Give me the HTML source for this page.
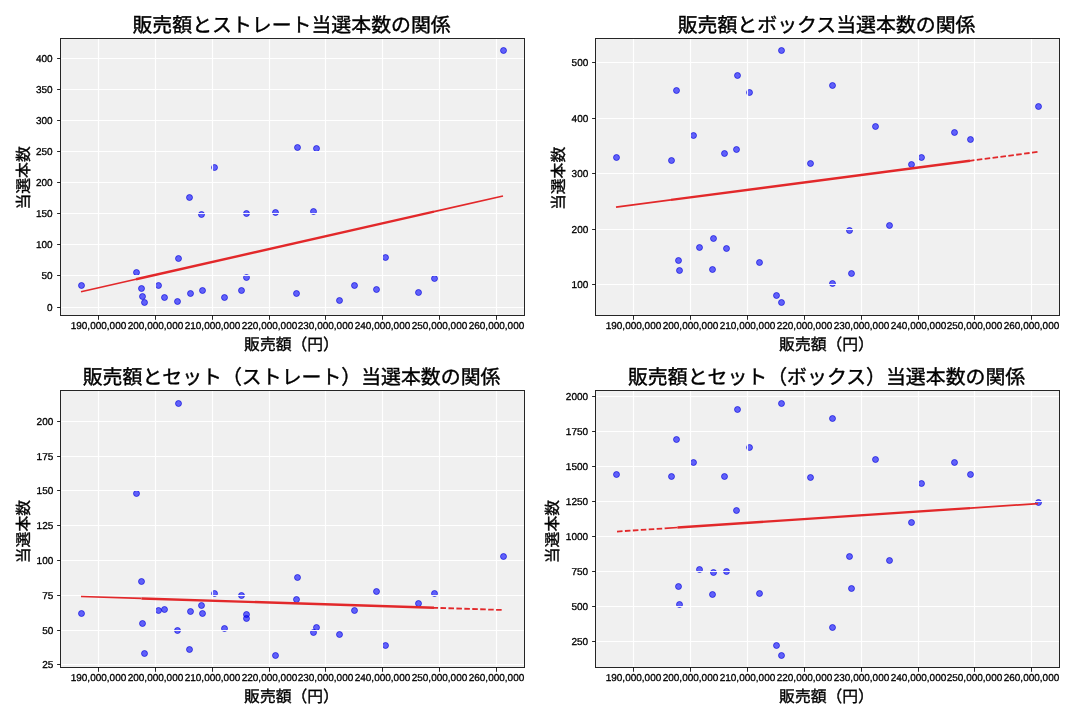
<!DOCTYPE html>
<html lang="ja">
<head>
<meta charset="utf-8">
<title>販売額と当選本数の関係</title>
<style>
html,body{margin:0;padding:0;background:#ffffff;}
body{width:1080px;height:720px;overflow:hidden;font-family:"Liberation Sans", "Noto Sans CJK JP", sans-serif;}
svg{display:block;will-change:transform;}
svg text{text-rendering:geometricPrecision;}
</style>
</head>
<body>
<svg width="1080" height="720" viewBox="0 0 1080 720" font-family='"Liberation Sans", "Noto Sans CJK JP", sans-serif'>
<rect width="1080" height="720" fill="#ffffff"/>
<g>
<clipPath id="clip0"><rect x="60.5" y="38.5" width="464.00" height="277.00"/></clipPath>
<rect x="60.5" y="38.5" width="464.00" height="277.00" fill="#f0f0f0"/>
<g clip-path="url(#clip0)" fill="#0000ff" fill-opacity="0.6" stroke="#0000d8" stroke-opacity="0.6" stroke-width="1">
<circle cx="81.50" cy="285.50" r="3"/>
<circle cx="136.50" cy="272.50" r="3"/>
<circle cx="141.50" cy="288.50" r="3"/>
<circle cx="142.50" cy="296.50" r="3"/>
<circle cx="144.50" cy="302.50" r="3"/>
<circle cx="158.50" cy="285.50" r="3"/>
<circle cx="164.50" cy="297.50" r="3"/>
<circle cx="177.50" cy="301.50" r="3"/>
<circle cx="178.50" cy="258.50" r="3"/>
<circle cx="190.50" cy="293.50" r="3"/>
<circle cx="189.50" cy="197.50" r="3"/>
<circle cx="201.50" cy="214.50" r="3"/>
<circle cx="202.50" cy="290.50" r="3"/>
<circle cx="214.50" cy="167.50" r="3"/>
<circle cx="224.50" cy="297.50" r="3"/>
<circle cx="241.50" cy="290.50" r="3"/>
<circle cx="246.50" cy="277.50" r="3"/>
<circle cx="246.50" cy="213.50" r="3"/>
<circle cx="275.50" cy="212.50" r="3"/>
<circle cx="297.50" cy="147.50" r="3"/>
<circle cx="296.50" cy="293.50" r="3"/>
<circle cx="316.50" cy="148.50" r="3"/>
<circle cx="313.50" cy="211.50" r="3"/>
<circle cx="339.50" cy="300.50" r="3"/>
<circle cx="354.50" cy="285.50" r="3"/>
<circle cx="376.50" cy="289.50" r="3"/>
<circle cx="385.50" cy="257.50" r="3"/>
<circle cx="418.50" cy="292.50" r="3"/>
<circle cx="434.50" cy="278.50" r="3"/>
<circle cx="503.50" cy="50.50" r="3"/>
</g>
<g stroke="#ffffff" stroke-width="1.15" stroke-opacity="0.95" fill="none">
<line x1="98.5" y1="38.5" x2="98.5" y2="315.5"/>
<line x1="155.5" y1="38.5" x2="155.5" y2="315.5"/>
<line x1="212.5" y1="38.5" x2="212.5" y2="315.5"/>
<line x1="269.5" y1="38.5" x2="269.5" y2="315.5"/>
<line x1="325.5" y1="38.5" x2="325.5" y2="315.5"/>
<line x1="382.5" y1="38.5" x2="382.5" y2="315.5"/>
<line x1="439.5" y1="38.5" x2="439.5" y2="315.5"/>
<line x1="496.5" y1="38.5" x2="496.5" y2="315.5"/>
<line x1="60.5" y1="307.5" x2="524.5" y2="307.5"/>
<line x1="60.5" y1="275.5" x2="524.5" y2="275.5"/>
<line x1="60.5" y1="244.5" x2="524.5" y2="244.5"/>
<line x1="60.5" y1="213.5" x2="524.5" y2="213.5"/>
<line x1="60.5" y1="182.5" x2="524.5" y2="182.5"/>
<line x1="60.5" y1="151.5" x2="524.5" y2="151.5"/>
<line x1="60.5" y1="120.5" x2="524.5" y2="120.5"/>
<line x1="60.5" y1="89.5" x2="524.5" y2="89.5"/>
<line x1="60.5" y1="58.5" x2="524.5" y2="58.5"/>
</g>
<g clip-path="url(#clip0)" fill="none" stroke="#e2282a">
<line x1="136.00" y1="279.28" x2="434.00" y2="211.66" stroke-width="2.4"/>
<line x1="81.00" y1="291.76" x2="136.00" y2="279.28" stroke-width="1.7"/>
<line x1="434.00" y1="211.66" x2="503.00" y2="196.00" stroke-width="1.7"/>
</g>
<g stroke="#000000" stroke-width="1" stroke-opacity="0.85" fill="none">
<line x1="98.5" y1="315.5" x2="98.5" y2="319.80"/>
<line x1="155.5" y1="315.5" x2="155.5" y2="319.80"/>
<line x1="212.5" y1="315.5" x2="212.5" y2="319.80"/>
<line x1="269.5" y1="315.5" x2="269.5" y2="319.80"/>
<line x1="325.5" y1="315.5" x2="325.5" y2="319.80"/>
<line x1="382.5" y1="315.5" x2="382.5" y2="319.80"/>
<line x1="439.5" y1="315.5" x2="439.5" y2="319.80"/>
<line x1="496.5" y1="315.5" x2="496.5" y2="319.80"/>
<line x1="60.5" y1="307.5" x2="57.10" y2="307.5"/>
<line x1="60.5" y1="275.5" x2="57.10" y2="275.5"/>
<line x1="60.5" y1="244.5" x2="57.10" y2="244.5"/>
<line x1="60.5" y1="213.5" x2="57.10" y2="213.5"/>
<line x1="60.5" y1="182.5" x2="57.10" y2="182.5"/>
<line x1="60.5" y1="151.5" x2="57.10" y2="151.5"/>
<line x1="60.5" y1="120.5" x2="57.10" y2="120.5"/>
<line x1="60.5" y1="89.5" x2="57.10" y2="89.5"/>
<line x1="60.5" y1="58.5" x2="57.10" y2="58.5"/>
</g>
<rect x="60.5" y="38.5" width="464.00" height="277.00" fill="none" stroke="#000000" stroke-opacity="0.85" stroke-width="1"/>
<g font-size="10" fill="#000000" stroke="#000000" stroke-width="0.3">
<text x="98.50" y="329.40" text-anchor="middle">190,000,000</text>
<text x="155.50" y="329.40" text-anchor="middle">200,000,000</text>
<text x="212.50" y="329.40" text-anchor="middle">210,000,000</text>
<text x="269.50" y="329.40" text-anchor="middle">220,000,000</text>
<text x="325.50" y="329.40" text-anchor="middle">230,000,000</text>
<text x="382.50" y="329.40" text-anchor="middle">240,000,000</text>
<text x="439.50" y="329.40" text-anchor="middle">250,000,000</text>
<text x="496.50" y="329.40" text-anchor="middle">260,000,000</text>
<text x="52.60" y="310.65" text-anchor="end">0</text>
<text x="52.60" y="278.65" text-anchor="end">50</text>
<text x="52.60" y="247.65" text-anchor="end">100</text>
<text x="52.60" y="216.65" text-anchor="end">150</text>
<text x="52.60" y="185.65" text-anchor="end">200</text>
<text x="52.60" y="154.65" text-anchor="end">250</text>
<text x="52.60" y="123.65" text-anchor="end">300</text>
<text x="52.60" y="92.65" text-anchor="end">350</text>
<text x="52.60" y="61.65" text-anchor="end">400</text>
</g>
<text x="291.50" y="349.90" font-size="15.8" text-anchor="middle" fill="#000000" stroke="#000000" stroke-width="0.35">販売額（円）</text>
<text transform="translate(29.00,177.90) rotate(-90)" font-size="15.8" text-anchor="middle" fill="#000000" stroke="#000000" stroke-width="0.35">当選本数</text>
<text x="291.60" y="31.90" font-size="19.9" text-anchor="middle" fill="#000000" stroke="#000000" stroke-width="0.4">販売額とストレート当選本数の関係</text>
</g>
<g>
<clipPath id="clip1"><rect x="595.5" y="38.5" width="464.00" height="277.00"/></clipPath>
<rect x="595.5" y="38.5" width="464.00" height="277.00" fill="#f0f0f0"/>
<g clip-path="url(#clip1)" fill="#0000ff" fill-opacity="0.6" stroke="#0000d8" stroke-opacity="0.6" stroke-width="1">
<circle cx="616.50" cy="157.50" r="3"/>
<circle cx="671.50" cy="160.50" r="3"/>
<circle cx="676.50" cy="90.50" r="3"/>
<circle cx="678.50" cy="260.50" r="3"/>
<circle cx="679.50" cy="270.50" r="3"/>
<circle cx="693.50" cy="135.50" r="3"/>
<circle cx="699.50" cy="247.50" r="3"/>
<circle cx="712.50" cy="269.50" r="3"/>
<circle cx="713.50" cy="238.50" r="3"/>
<circle cx="726.50" cy="248.50" r="3"/>
<circle cx="724.50" cy="153.50" r="3"/>
<circle cx="736.50" cy="149.50" r="3"/>
<circle cx="737.50" cy="75.50" r="3"/>
<circle cx="749.50" cy="92.50" r="3"/>
<circle cx="759.50" cy="262.50" r="3"/>
<circle cx="776.50" cy="295.50" r="3"/>
<circle cx="781.50" cy="50.50" r="3"/>
<circle cx="781.50" cy="302.50" r="3"/>
<circle cx="810.50" cy="163.50" r="3"/>
<circle cx="832.50" cy="85.50" r="3"/>
<circle cx="832.50" cy="283.50" r="3"/>
<circle cx="851.50" cy="273.50" r="3"/>
<circle cx="849.50" cy="230.50" r="3"/>
<circle cx="875.50" cy="126.50" r="3"/>
<circle cx="889.50" cy="225.50" r="3"/>
<circle cx="911.50" cy="164.50" r="3"/>
<circle cx="921.50" cy="157.50" r="3"/>
<circle cx="954.50" cy="132.50" r="3"/>
<circle cx="970.50" cy="139.50" r="3"/>
<circle cx="1038.50" cy="106.50" r="3"/>
</g>
<g stroke="#ffffff" stroke-width="1.15" stroke-opacity="0.95" fill="none">
<line x1="633.5" y1="38.5" x2="633.5" y2="315.5"/>
<line x1="690.5" y1="38.5" x2="690.5" y2="315.5"/>
<line x1="747.5" y1="38.5" x2="747.5" y2="315.5"/>
<line x1="804.5" y1="38.5" x2="804.5" y2="315.5"/>
<line x1="861.5" y1="38.5" x2="861.5" y2="315.5"/>
<line x1="918.5" y1="38.5" x2="918.5" y2="315.5"/>
<line x1="974.5" y1="38.5" x2="974.5" y2="315.5"/>
<line x1="1031.5" y1="38.5" x2="1031.5" y2="315.5"/>
<line x1="595.5" y1="284.5" x2="1059.5" y2="284.5"/>
<line x1="595.5" y1="229.5" x2="1059.5" y2="229.5"/>
<line x1="595.5" y1="173.5" x2="1059.5" y2="173.5"/>
<line x1="595.5" y1="118.5" x2="1059.5" y2="118.5"/>
<line x1="595.5" y1="62.5" x2="1059.5" y2="62.5"/>
</g>
<g clip-path="url(#clip1)" fill="none" stroke="#e2282a">
<line x1="671.00" y1="199.91" x2="970.00" y2="160.79" stroke-width="2.4"/>
<line x1="616.00" y1="207.10" x2="671.00" y2="199.91" stroke-width="1.7"/>
<line x1="970.00" y1="160.79" x2="1038.00" y2="151.90" stroke-width="1.8" stroke-dasharray="5.55 2.4" stroke-dashoffset="1.1"/>
<line x1="970.00" y1="160.79" x2="970.00" y2="160.79" stroke-width="1.7"/>
</g>
<g stroke="#000000" stroke-width="1" stroke-opacity="0.85" fill="none">
<line x1="633.5" y1="315.5" x2="633.5" y2="319.80"/>
<line x1="690.5" y1="315.5" x2="690.5" y2="319.80"/>
<line x1="747.5" y1="315.5" x2="747.5" y2="319.80"/>
<line x1="804.5" y1="315.5" x2="804.5" y2="319.80"/>
<line x1="861.5" y1="315.5" x2="861.5" y2="319.80"/>
<line x1="918.5" y1="315.5" x2="918.5" y2="319.80"/>
<line x1="974.5" y1="315.5" x2="974.5" y2="319.80"/>
<line x1="1031.5" y1="315.5" x2="1031.5" y2="319.80"/>
<line x1="595.5" y1="284.5" x2="592.10" y2="284.5"/>
<line x1="595.5" y1="229.5" x2="592.10" y2="229.5"/>
<line x1="595.5" y1="173.5" x2="592.10" y2="173.5"/>
<line x1="595.5" y1="118.5" x2="592.10" y2="118.5"/>
<line x1="595.5" y1="62.5" x2="592.10" y2="62.5"/>
</g>
<rect x="595.5" y="38.5" width="464.00" height="277.00" fill="none" stroke="#000000" stroke-opacity="0.85" stroke-width="1"/>
<g font-size="10" fill="#000000" stroke="#000000" stroke-width="0.3">
<text x="633.50" y="329.40" text-anchor="middle">190,000,000</text>
<text x="690.50" y="329.40" text-anchor="middle">200,000,000</text>
<text x="747.50" y="329.40" text-anchor="middle">210,000,000</text>
<text x="804.50" y="329.40" text-anchor="middle">220,000,000</text>
<text x="861.50" y="329.40" text-anchor="middle">230,000,000</text>
<text x="918.50" y="329.40" text-anchor="middle">240,000,000</text>
<text x="974.50" y="329.40" text-anchor="middle">250,000,000</text>
<text x="1031.50" y="329.40" text-anchor="middle">260,000,000</text>
<text x="588.30" y="287.95" text-anchor="end">100</text>
<text x="588.30" y="232.95" text-anchor="end">200</text>
<text x="588.30" y="176.95" text-anchor="end">300</text>
<text x="588.30" y="121.95" text-anchor="end">400</text>
<text x="588.30" y="65.95" text-anchor="end">500</text>
</g>
<text x="826.50" y="349.90" font-size="15.8" text-anchor="middle" fill="#000000" stroke="#000000" stroke-width="0.35">販売額（円）</text>
<text transform="translate(564.00,178.40) rotate(-90)" font-size="15.8" text-anchor="middle" fill="#000000" stroke="#000000" stroke-width="0.35">当選本数</text>
<text x="826.60" y="31.90" font-size="19.9" text-anchor="middle" fill="#000000" stroke="#000000" stroke-width="0.4">販売額とボックス当選本数の関係</text>
</g>
<g>
<clipPath id="clip2"><rect x="60.5" y="390.5" width="464.00" height="277.00"/></clipPath>
<rect x="60.5" y="390.5" width="464.00" height="277.00" fill="#f0f0f0"/>
<g clip-path="url(#clip2)" fill="#0000ff" fill-opacity="0.6" stroke="#0000d8" stroke-opacity="0.6" stroke-width="1">
<circle cx="81.50" cy="613.50" r="3"/>
<circle cx="136.50" cy="493.50" r="3"/>
<circle cx="141.50" cy="581.50" r="3"/>
<circle cx="142.50" cy="623.50" r="3"/>
<circle cx="144.50" cy="653.50" r="3"/>
<circle cx="158.50" cy="610.50" r="3"/>
<circle cx="164.50" cy="609.50" r="3"/>
<circle cx="177.50" cy="630.50" r="3"/>
<circle cx="178.50" cy="403.50" r="3"/>
<circle cx="190.50" cy="611.50" r="3"/>
<circle cx="189.50" cy="649.50" r="3"/>
<circle cx="201.50" cy="605.50" r="3"/>
<circle cx="202.50" cy="613.50" r="3"/>
<circle cx="214.50" cy="593.50" r="3"/>
<circle cx="224.50" cy="628.50" r="3"/>
<circle cx="241.50" cy="595.50" r="3"/>
<circle cx="246.50" cy="614.50" r="3"/>
<circle cx="246.50" cy="618.50" r="3"/>
<circle cx="275.50" cy="655.50" r="3"/>
<circle cx="297.50" cy="577.50" r="3"/>
<circle cx="296.50" cy="599.50" r="3"/>
<circle cx="316.50" cy="627.50" r="3"/>
<circle cx="313.50" cy="632.50" r="3"/>
<circle cx="339.50" cy="634.50" r="3"/>
<circle cx="354.50" cy="610.50" r="3"/>
<circle cx="376.50" cy="591.50" r="3"/>
<circle cx="385.50" cy="645.50" r="3"/>
<circle cx="418.50" cy="603.50" r="3"/>
<circle cx="434.50" cy="593.50" r="3"/>
<circle cx="503.50" cy="556.50" r="3"/>
</g>
<g stroke="#ffffff" stroke-width="1.15" stroke-opacity="0.95" fill="none">
<line x1="98.5" y1="390.5" x2="98.5" y2="667.5"/>
<line x1="155.5" y1="390.5" x2="155.5" y2="667.5"/>
<line x1="212.5" y1="390.5" x2="212.5" y2="667.5"/>
<line x1="269.5" y1="390.5" x2="269.5" y2="667.5"/>
<line x1="325.5" y1="390.5" x2="325.5" y2="667.5"/>
<line x1="382.5" y1="390.5" x2="382.5" y2="667.5"/>
<line x1="439.5" y1="390.5" x2="439.5" y2="667.5"/>
<line x1="496.5" y1="390.5" x2="496.5" y2="667.5"/>
<line x1="60.5" y1="664.5" x2="524.5" y2="664.5"/>
<line x1="60.5" y1="630.5" x2="524.5" y2="630.5"/>
<line x1="60.5" y1="595.5" x2="524.5" y2="595.5"/>
<line x1="60.5" y1="560.5" x2="524.5" y2="560.5"/>
<line x1="60.5" y1="525.5" x2="524.5" y2="525.5"/>
<line x1="60.5" y1="490.5" x2="524.5" y2="490.5"/>
<line x1="60.5" y1="456.5" x2="524.5" y2="456.5"/>
<line x1="60.5" y1="421.5" x2="524.5" y2="421.5"/>
</g>
<g clip-path="url(#clip2)" fill="none" stroke="#e2282a">
<line x1="141.50" y1="598.44" x2="434.00" y2="607.79" stroke-width="2.4"/>
<line x1="81.00" y1="596.50" x2="141.50" y2="598.44" stroke-width="1.7"/>
<line x1="434.00" y1="607.79" x2="503.00" y2="610.00" stroke-width="1.8" stroke-dasharray="5.55 2.4" stroke-dashoffset="1.45"/>
<line x1="434.00" y1="607.79" x2="434.00" y2="607.79" stroke-width="1.7"/>
</g>
<g stroke="#000000" stroke-width="1" stroke-opacity="0.85" fill="none">
<line x1="98.5" y1="667.5" x2="98.5" y2="671.80"/>
<line x1="155.5" y1="667.5" x2="155.5" y2="671.80"/>
<line x1="212.5" y1="667.5" x2="212.5" y2="671.80"/>
<line x1="269.5" y1="667.5" x2="269.5" y2="671.80"/>
<line x1="325.5" y1="667.5" x2="325.5" y2="671.80"/>
<line x1="382.5" y1="667.5" x2="382.5" y2="671.80"/>
<line x1="439.5" y1="667.5" x2="439.5" y2="671.80"/>
<line x1="496.5" y1="667.5" x2="496.5" y2="671.80"/>
<line x1="60.5" y1="664.5" x2="57.10" y2="664.5"/>
<line x1="60.5" y1="630.5" x2="57.10" y2="630.5"/>
<line x1="60.5" y1="595.5" x2="57.10" y2="595.5"/>
<line x1="60.5" y1="560.5" x2="57.10" y2="560.5"/>
<line x1="60.5" y1="525.5" x2="57.10" y2="525.5"/>
<line x1="60.5" y1="490.5" x2="57.10" y2="490.5"/>
<line x1="60.5" y1="456.5" x2="57.10" y2="456.5"/>
<line x1="60.5" y1="421.5" x2="57.10" y2="421.5"/>
</g>
<rect x="60.5" y="390.5" width="464.00" height="277.00" fill="none" stroke="#000000" stroke-opacity="0.85" stroke-width="1"/>
<g font-size="10" fill="#000000" stroke="#000000" stroke-width="0.3">
<text x="98.50" y="681.40" text-anchor="middle">190,000,000</text>
<text x="155.50" y="681.40" text-anchor="middle">200,000,000</text>
<text x="212.50" y="681.40" text-anchor="middle">210,000,000</text>
<text x="269.50" y="681.40" text-anchor="middle">220,000,000</text>
<text x="325.50" y="681.40" text-anchor="middle">230,000,000</text>
<text x="382.50" y="681.40" text-anchor="middle">240,000,000</text>
<text x="439.50" y="681.40" text-anchor="middle">250,000,000</text>
<text x="496.50" y="681.40" text-anchor="middle">260,000,000</text>
<text x="53.30" y="668.05" text-anchor="end">25</text>
<text x="53.30" y="634.05" text-anchor="end">50</text>
<text x="53.30" y="599.05" text-anchor="end">75</text>
<text x="53.30" y="564.05" text-anchor="end">100</text>
<text x="53.30" y="529.05" text-anchor="end">125</text>
<text x="53.30" y="494.05" text-anchor="end">150</text>
<text x="53.30" y="460.05" text-anchor="end">175</text>
<text x="53.30" y="425.05" text-anchor="end">200</text>
</g>
<text x="291.50" y="701.90" font-size="15.8" text-anchor="middle" fill="#000000" stroke="#000000" stroke-width="0.35">販売額（円）</text>
<text transform="translate(29.00,531.60) rotate(-90)" font-size="15.8" text-anchor="middle" fill="#000000" stroke="#000000" stroke-width="0.35">当選本数</text>
<text x="291.60" y="383.90" font-size="19.9" text-anchor="middle" fill="#000000" stroke="#000000" stroke-width="0.4">販売額とセット（ストレート）当選本数の関係</text>
</g>
<g>
<clipPath id="clip3"><rect x="595.5" y="390.5" width="464.00" height="277.00"/></clipPath>
<rect x="595.5" y="390.5" width="464.00" height="277.00" fill="#f0f0f0"/>
<g clip-path="url(#clip3)" fill="#0000ff" fill-opacity="0.6" stroke="#0000d8" stroke-opacity="0.6" stroke-width="1">
<circle cx="616.50" cy="474.50" r="3"/>
<circle cx="671.50" cy="476.50" r="3"/>
<circle cx="676.50" cy="439.50" r="3"/>
<circle cx="678.50" cy="586.50" r="3"/>
<circle cx="679.50" cy="604.50" r="3"/>
<circle cx="693.50" cy="462.50" r="3"/>
<circle cx="699.50" cy="569.50" r="3"/>
<circle cx="712.50" cy="594.50" r="3"/>
<circle cx="713.50" cy="572.50" r="3"/>
<circle cx="726.50" cy="571.50" r="3"/>
<circle cx="724.50" cy="476.50" r="3"/>
<circle cx="736.50" cy="510.50" r="3"/>
<circle cx="737.50" cy="409.50" r="3"/>
<circle cx="749.50" cy="447.50" r="3"/>
<circle cx="759.50" cy="593.50" r="3"/>
<circle cx="776.50" cy="645.50" r="3"/>
<circle cx="781.50" cy="403.50" r="3"/>
<circle cx="781.50" cy="655.50" r="3"/>
<circle cx="810.50" cy="477.50" r="3"/>
<circle cx="832.50" cy="418.50" r="3"/>
<circle cx="832.50" cy="627.50" r="3"/>
<circle cx="851.50" cy="588.50" r="3"/>
<circle cx="849.50" cy="556.50" r="3"/>
<circle cx="875.50" cy="459.50" r="3"/>
<circle cx="889.50" cy="560.50" r="3"/>
<circle cx="911.50" cy="522.50" r="3"/>
<circle cx="921.50" cy="483.50" r="3"/>
<circle cx="954.50" cy="462.50" r="3"/>
<circle cx="970.50" cy="474.50" r="3"/>
<circle cx="1038.50" cy="502.50" r="3"/>
</g>
<g stroke="#ffffff" stroke-width="1.15" stroke-opacity="0.95" fill="none">
<line x1="633.5" y1="390.5" x2="633.5" y2="667.5"/>
<line x1="690.5" y1="390.5" x2="690.5" y2="667.5"/>
<line x1="747.5" y1="390.5" x2="747.5" y2="667.5"/>
<line x1="804.5" y1="390.5" x2="804.5" y2="667.5"/>
<line x1="861.5" y1="390.5" x2="861.5" y2="667.5"/>
<line x1="918.5" y1="390.5" x2="918.5" y2="667.5"/>
<line x1="974.5" y1="390.5" x2="974.5" y2="667.5"/>
<line x1="1031.5" y1="390.5" x2="1031.5" y2="667.5"/>
<line x1="595.5" y1="641.5" x2="1059.5" y2="641.5"/>
<line x1="595.5" y1="606.5" x2="1059.5" y2="606.5"/>
<line x1="595.5" y1="571.5" x2="1059.5" y2="571.5"/>
<line x1="595.5" y1="536.5" x2="1059.5" y2="536.5"/>
<line x1="595.5" y1="501.5" x2="1059.5" y2="501.5"/>
<line x1="595.5" y1="466.5" x2="1059.5" y2="466.5"/>
<line x1="595.5" y1="431.5" x2="1059.5" y2="431.5"/>
<line x1="595.5" y1="396.5" x2="1059.5" y2="396.5"/>
</g>
<g clip-path="url(#clip3)" fill="none" stroke="#e2282a">
<line x1="677.50" y1="527.52" x2="970.00" y2="508.11" stroke-width="2.4"/>
<line x1="616.00" y1="531.60" x2="664.80" y2="528.36" stroke-width="1.8" stroke-dasharray="5.55 2.4" stroke-dashoffset="6.95"/>
<line x1="664.80" y1="528.36" x2="677.50" y2="527.52" stroke-width="1.7"/>
<line x1="970.00" y1="508.11" x2="1038.00" y2="503.60" stroke-width="1.7"/>
</g>
<g stroke="#000000" stroke-width="1" stroke-opacity="0.85" fill="none">
<line x1="633.5" y1="667.5" x2="633.5" y2="671.80"/>
<line x1="690.5" y1="667.5" x2="690.5" y2="671.80"/>
<line x1="747.5" y1="667.5" x2="747.5" y2="671.80"/>
<line x1="804.5" y1="667.5" x2="804.5" y2="671.80"/>
<line x1="861.5" y1="667.5" x2="861.5" y2="671.80"/>
<line x1="918.5" y1="667.5" x2="918.5" y2="671.80"/>
<line x1="974.5" y1="667.5" x2="974.5" y2="671.80"/>
<line x1="1031.5" y1="667.5" x2="1031.5" y2="671.80"/>
<line x1="595.5" y1="641.5" x2="592.10" y2="641.5"/>
<line x1="595.5" y1="606.5" x2="592.10" y2="606.5"/>
<line x1="595.5" y1="571.5" x2="592.10" y2="571.5"/>
<line x1="595.5" y1="536.5" x2="592.10" y2="536.5"/>
<line x1="595.5" y1="501.5" x2="592.10" y2="501.5"/>
<line x1="595.5" y1="466.5" x2="592.10" y2="466.5"/>
<line x1="595.5" y1="431.5" x2="592.10" y2="431.5"/>
<line x1="595.5" y1="396.5" x2="592.10" y2="396.5"/>
</g>
<rect x="595.5" y="390.5" width="464.00" height="277.00" fill="none" stroke="#000000" stroke-opacity="0.85" stroke-width="1"/>
<g font-size="10" fill="#000000" stroke="#000000" stroke-width="0.3">
<text x="633.50" y="681.40" text-anchor="middle">190,000,000</text>
<text x="690.50" y="681.40" text-anchor="middle">200,000,000</text>
<text x="747.50" y="681.40" text-anchor="middle">210,000,000</text>
<text x="804.50" y="681.40" text-anchor="middle">220,000,000</text>
<text x="861.50" y="681.40" text-anchor="middle">230,000,000</text>
<text x="918.50" y="681.40" text-anchor="middle">240,000,000</text>
<text x="974.50" y="681.40" text-anchor="middle">250,000,000</text>
<text x="1031.50" y="681.40" text-anchor="middle">260,000,000</text>
<text x="588.10" y="644.95" text-anchor="end">250</text>
<text x="588.10" y="609.95" text-anchor="end">500</text>
<text x="588.10" y="574.95" text-anchor="end">750</text>
<text x="588.10" y="539.95" text-anchor="end">1000</text>
<text x="588.10" y="504.95" text-anchor="end">1250</text>
<text x="588.10" y="469.95" text-anchor="end">1500</text>
<text x="588.10" y="434.95" text-anchor="end">1750</text>
<text x="588.10" y="399.95" text-anchor="end">2000</text>
</g>
<text x="826.50" y="701.90" font-size="15.8" text-anchor="middle" fill="#000000" stroke="#000000" stroke-width="0.35">販売額（円）</text>
<text transform="translate(557.90,531.60) rotate(-90)" font-size="15.8" text-anchor="middle" fill="#000000" stroke="#000000" stroke-width="0.35">当選本数</text>
<text x="826.60" y="383.90" font-size="19.9" text-anchor="middle" fill="#000000" stroke="#000000" stroke-width="0.4">販売額とセット（ボックス）当選本数の関係</text>
</g>
</svg>
</body>
</html>
